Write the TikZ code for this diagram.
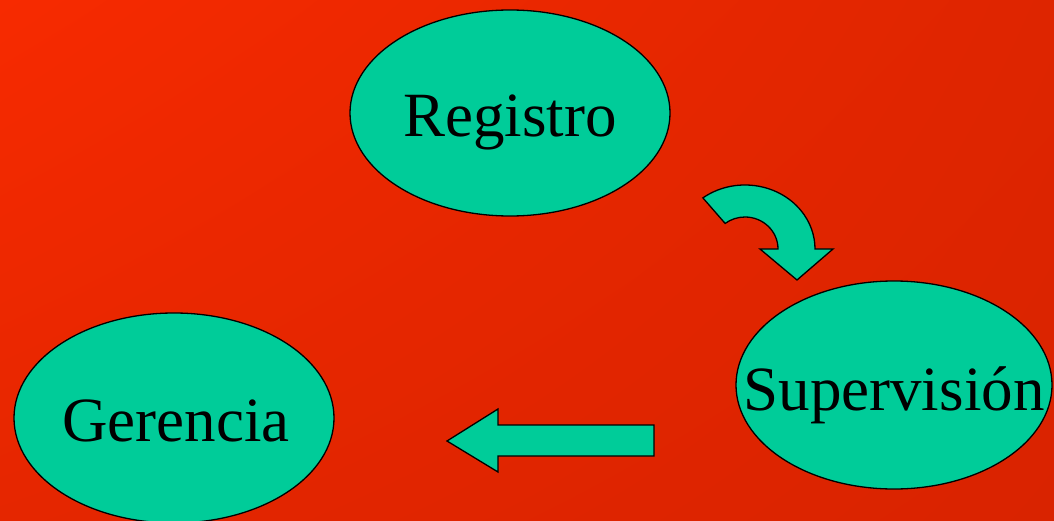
\documentclass[tikz,border=0pt]{standalone}
\usepackage{fontspec}
\setmainfont{Liberation Serif}
\usetikzlibrary{shapes.geometric,shadings}
\definecolor{bgul}{HTML}{F72A00}
\definecolor{bgur}{HTML}{DE2500}
\definecolor{bgll}{HTML}{E52600}
\definecolor{bglr}{HTML}{D92300}
\definecolor{teal}{HTML}{00CC99}
\tikzset{
  bubble/.style={ellipse, draw=black, line width=1.3pt, fill=teal, inner sep=0pt},
  arrowshape/.style={draw=black, line width=1.3pt, fill=teal, line join=miter},
  lbl/.style={font=\fontsize{63}{70}\selectfont, inner sep=0pt, anchor=base}
}
\begin{document}
\begin{tikzpicture}[x=1pt,y=1pt]
\useasboundingbox (0,0) rectangle (1054,520);
\shade[upper left=bgul, upper right=bgur, lower left=bgll, lower right=bglr] (0,0) rectangle (1054,520);
% ellipses (pixel y flipped: y = 520 - py)
\node[bubble, minimum width=320pt, minimum height=206pt] (reg) at (510,407) {};
\node[bubble, minimum width=316pt, minimum height=208pt] (sup) at (894,135) {};
\node[bubble, minimum width=320pt, minimum height=210pt] (ger) at (174,102) {};
\node[lbl] (regt) at (510,383) {Registro};
\node[lbl] (supt) at (894,110) {Supervisión};
\node[lbl] (gert) at (176,79) {Gerencia};
% curved arrow from Registro to Supervision
\coordinate (cc) at (745,271);
\path[arrowshape] ([shift={(127:70 and 64)}]cc)
  arc[start angle=127, end angle=0, x radius=70, y radius=64]
  -- (833,271) -- (797,240) -- (760,271) -- (778,271)
  arc[start angle=0, end angle=127, x radius=33, y radius=32] -- cycle;
% straight arrow from Supervision to Gerencia
\path[arrowshape] (654,95) -- (498,95) -- (498,111) -- (447,79) -- (498,48) -- (498,64) -- (654,64) -- cycle;
\end{tikzpicture}
\end{document}
